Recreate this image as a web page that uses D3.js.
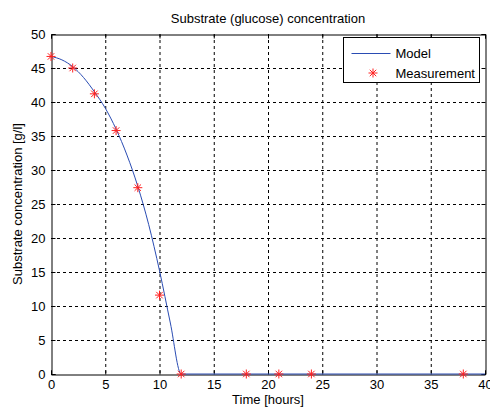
<!DOCTYPE html>
<html>
<head>
<meta charset="utf-8">
<script src="https://cdn.jsdelivr.net/npm/d3@7"></script>
<style>
  body { margin: 0; background: #fff; }
  svg text { font-family: 'Liberation Sans', Arial, sans-serif; font-size: 13px; fill: #000; }
  .grid line { stroke: #000; stroke-dasharray: 3,3; stroke-width: 1; }
</style>
</head>
<body>
<div id="chart"></div>
<script>
'use strict'

// model curve (hours, g/l)
const modelT = [0, 1, 2, 3, 4, 5, 6, 7, 8, 9, 10, 11, 12, 40]
const modelS = [46.7, 46.2, 45.2, 43.6, 41.5, 39.1, 36.0, 32.2, 27.6, 22.0, 15.2, 7.5, 0, 0]

// measurements
const measT = [0, 2, 4, 6, 8, 10, 12, 18, 21, 24, 38]
const measS = [46.7, 45.0, 41.2, 35.8, 27.4, 11.6, 0, 0, 0, 0, 0]

const xTicks = [0, 5, 10, 15, 20, 25, 30, 35, 40]
const yTicks = [0, 5, 10, 15, 20, 25, 30, 35, 40, 45, 50]

const width = 490
const height = 407
const margin = { top: 34, right: 5, bottom: 33, left: 51 }

const svg = d3.select('#chart')
  .append('svg')
  .attr('width', width)
  .attr('height', height)

const x = d3.scaleLinear().domain([0, 40]).range([margin.left, width - margin.right])
const y = d3.scaleLinear().domain([0, 50]).range([height - margin.bottom, margin.top])

// grid
const grid = svg.append('g').attr('class', 'grid')
grid.selectAll('line.v')
  .data(xTicks.slice(1, -1))
  .enter()
  .append('line')
  .attr('x1', d => x(d) + 0.5)
  .attr('x2', d => x(d) + 0.5)
  .attr('y1', y(50))
  .attr('y2', y(0))
grid.selectAll('line.h')
  .data(yTicks.slice(1, -1))
  .enter()
  .append('line')
  .attr('x1', x(0))
  .attr('x2', x(40))
  .attr('y1', d => y(d) + 0.5)
  .attr('y2', d => y(d) + 0.5)

// axes (ticks pointing inward, box on)
const tickLen = 4
svg.append('g')
  .attr('transform', `translate(0,${y(0) + 0.5})`)
  .call(d3.axisBottom(x).tickValues(xTicks).tickSize(-tickLen).tickPadding(5))
svg.append('g')
  .attr('transform', `translate(0,${y(50) + 0.5})`)
  .call(d3.axisTop(x).tickValues(xTicks).tickSize(-tickLen).tickFormat(''))
svg.append('g')
  .attr('transform', `translate(${x(0) + 0.5},0)`)
  .call(d3.axisLeft(y).tickValues(yTicks).tickSize(-tickLen).tickPadding(6))
svg.append('g')
  .attr('transform', `translate(${x(40) + 0.5},0)`)
  .call(d3.axisRight(y).tickValues(yTicks).tickSize(-tickLen).tickFormat(''))

svg.selectAll('.domain').attr('stroke', '#000')
svg.selectAll('.tick line').attr('stroke', '#000')
svg.selectAll('.tick text')
  .style('font-size', '13px')
  .style('font-family', "'Liberation Sans', Arial, sans-serif")

// model line
const line = d3.line()
  .x(d => x(d[0]))
  .y(d => y(d[1]))
  .curve(d3.curveMonotoneX)
svg.append('path')
  .datum(d3.zip(modelT, modelS))
  .attr('fill', 'none')
  .attr('stroke', '#2a4cb3')
  .attr('stroke-width', 1)
  .attr('d', line)

// star marker like matlab '*'
function star (g, cx, cy, r) {
  const d = r * 0.72
  g.append('path')
    .attr('d', `M${cx - r},${cy}H${cx + r}M${cx},${cy - r}V${cy + r}` +
      `M${cx - d},${cy - d}L${cx + d},${cy + d}M${cx - d},${cy + d}L${cx + d},${cy - d}`)
    .attr('stroke', '#ff2020')
    .attr('stroke-width', 1)
    .attr('fill', 'none')
}
const marks = svg.append('g')
d3.zip(measT, measS).forEach(d => star(marks, x(d[0]), y(d[1]), 4.5))

// title and labels
svg.append('text')
  .attr('x', (x(0) + x(40)) / 2)
  .attr('y', 23)
  .attr('text-anchor', 'middle')
  .text('Substrate (glucose) concentration')
svg.append('text')
  .attr('x', (x(0) + x(40)) / 2)
  .attr('y', 404)
  .attr('text-anchor', 'middle')
  .text('Time [hours]')
svg.append('text')
  .attr('transform', `translate(22,${(y(0) + y(50)) / 2}) rotate(-90)`)
  .attr('text-anchor', 'middle')
  .text('Substrate concentration [g/l]')

// legend
const legend = svg.append('g').attr('transform', 'translate(343.5,37.5)')
legend.append('rect')
  .attr('width', 136)
  .attr('height', 45)
  .attr('fill', '#fff')
  .attr('stroke', '#000')
legend.append('line')
  .attr('x1', 8).attr('x2', 47)
  .attr('y1', 16).attr('y2', 16)
  .attr('stroke', '#2a4cb3')
star(legend, 29.5, 35.5, 4.5)
legend.append('text').attr('x', 52).attr('y', 20.5).text('Model')
legend.append('text').attr('x', 52).attr('y', 40).text('Measurement')
</script>
</body>
</html>
